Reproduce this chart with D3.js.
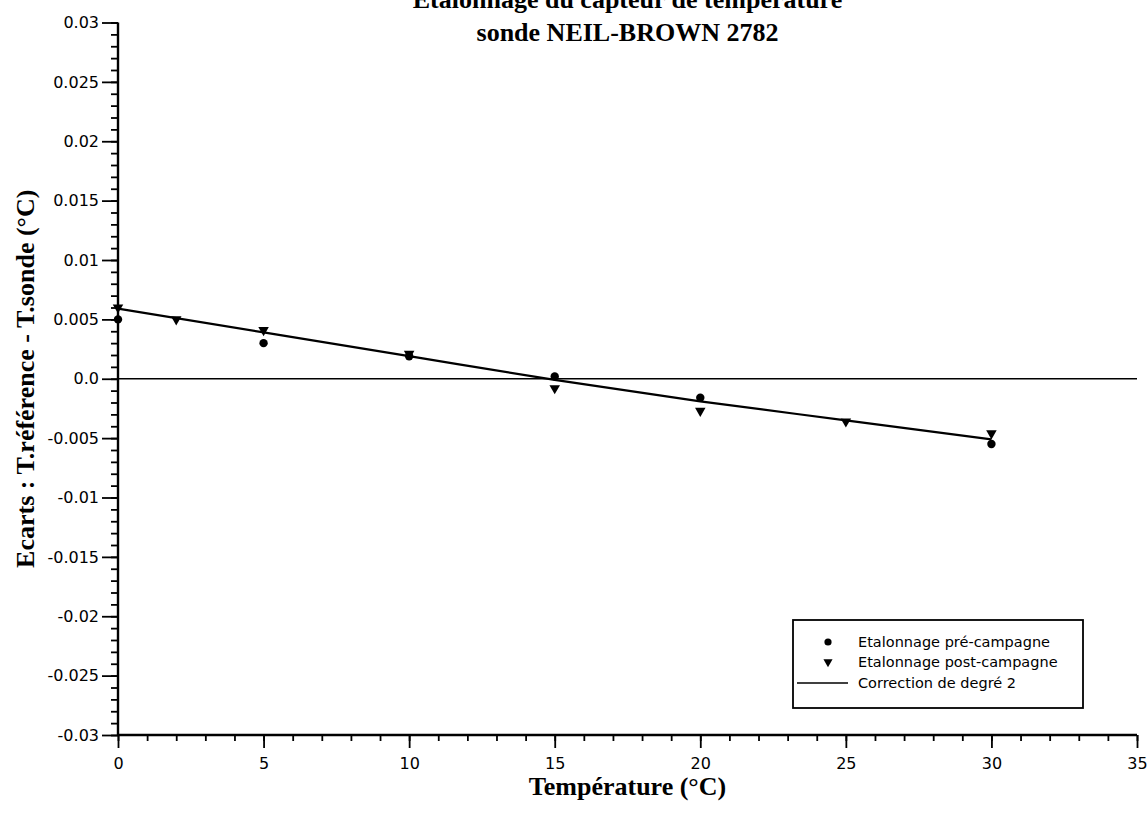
<!DOCTYPE html>
<html>
<head>
<meta charset="utf-8">
<script src="https://cdn.jsdelivr.net/npm/d3@7"></script>
<style>
  html, body { margin: 0; padding: 0; background: #fff; }
  svg { display: block; }
</style>
</head>
<body>
<svg id="chart" width="1148" height="815"></svg>
<script>
// ---------------- data ----------------
const titleLines = ["Etalonnage du capteur de température", "sonde NEIL-BROWN 2782"];
const xLabel = "Température (°C)";
const yLabel = "Ecarts : T.référence - T.sonde (°C)";

const preTemps = [0, 5, 10, 15, 20, 30];
const preValues = [0.0050, 0.0030, 0.0019, 0.0002, -0.0016, -0.0055];

const postTemps = [0, 2, 5, 10, 15, 20, 25, 30];
const postValues = [0.0060, 0.0050, 0.0041, 0.0021, -0.0008, -0.0027, -0.0036, -0.0046];

const fitTemps = [0, 5, 10, 15, 20, 25, 30];
const fitValues = [0.0059, 0.0039, 0.0019, -0.0001, -0.0019, -0.0035, -0.0051];

const xTicks = [0, 5, 10, 15, 20, 25, 30, 35];
const xTickLabels = ["0", "5", "10", "15", "20", "25", "30", "35"];
const yTicks = [0.03, 0.025, 0.02, 0.015, 0.01, 0.005, 0, -0.005, -0.01, -0.015, -0.02, -0.025, -0.03];
const yTickLabels = ["0.03", "0.025", "0.02", "0.015", "0.01", "0.005", "0.0", "-0.005", "-0.01", "-0.015", "-0.02", "-0.025", "-0.03"];

const legendLabels = ["Etalonnage pré-campagne", "Etalonnage post-campagne", "Correction de degré 2"];

// ---------------- drawing ----------------
const svg = d3.select("#chart");
const x = d3.scaleLinear().domain([0, 35]).range([118, 1137]);
const y = d3.scaleLinear().domain([-0.03, 0.03]).range([735, 22.5]);

const sans = "'DejaVu Sans', Verdana, sans-serif";
const serif = "'Liberation Serif', 'Times New Roman', serif";
const cx = (x(0) + x(35)) / 2;
const cy = (y(0.03) + y(-0.03)) / 2;

// zero reference line
svg.append("line")
  .attr("x1", x(0)).attr("x2", x(35))
  .attr("y1", y(0)).attr("y2", y(0))
  .attr("stroke", "#000").attr("stroke-width", 1.4);

// Y axis (major)
const yAxis = d3.axisLeft(y)
  .tickValues(yTicks)
  .tickSize(16)
  .tickPadding(3)
  .tickFormat((d, i) => yTickLabels[i]);
const gy = svg.append("g").attr("transform", `translate(${x(0)},0)`).call(yAxis);
gy.select(".domain").remove();
gy.selectAll(".tick line").attr("stroke-width", 1.8);
gy.selectAll("text").attr("font-family", sans).attr("font-size", 16).attr("fill", "#000");

// Y axis (minor)
const yMinor = d3.axisLeft(y).tickValues(d3.range(-30, 31).map(v => v / 1000)).tickSize(7).tickFormat("");
const gym = svg.append("g").attr("transform", `translate(${x(0)},0)`).call(yMinor);
gym.select(".domain").remove();
gym.selectAll(".tick line").attr("stroke-width", 1.8);

// X axis (major)
const xAxis = d3.axisBottom(x)
  .tickValues(xTicks)
  .tickSize(13)
  .tickPadding(10)
  .tickFormat((d, i) => xTickLabels[i]);
const gx = svg.append("g").attr("transform", `translate(0,${y(-0.03)})`).call(xAxis);
gx.select(".domain").remove();
gx.selectAll(".tick line").attr("stroke-width", 1.8);
gx.selectAll("text").attr("font-family", sans).attr("font-size", 16).attr("fill", "#000");

// X axis (minor)
const xMinor = d3.axisBottom(x).tickValues(d3.range(0, 36)).tickSize(6).tickFormat("");
const gxm = svg.append("g").attr("transform", `translate(0,${y(-0.03)})`).call(xMinor);
gxm.select(".domain").remove();
gxm.selectAll(".tick line").attr("stroke-width", 1.8);

// axis lines
svg.append("line").attr("x1", x(0)).attr("x2", x(0)).attr("y1", y(0.03)).attr("y2", y(-0.03))
  .attr("stroke", "#000").attr("stroke-width", 2.4);
svg.append("line").attr("x1", x(0)).attr("x2", x(35)).attr("y1", y(-0.03)).attr("y2", y(-0.03))
  .attr("stroke", "#000").attr("stroke-width", 2.4);

// fit curve
const fitData = fitTemps.map((t, i) => [t, fitValues[i]]);
svg.append("path")
  .datum(fitData)
  .attr("d", d3.line().x(d => x(d[0])).y(d => y(d[1])).curve(d3.curveMonotoneX))
  .attr("fill", "none").attr("stroke", "#000").attr("stroke-width", 2.2);

// pre-campagne points (filled dots)
svg.append("g").selectAll("circle")
  .data(preTemps.map((t, i) => [t, preValues[i]]))
  .join("circle")
  .attr("cx", d => x(d[0])).attr("cy", d => y(d[1]))
  .attr("r", 4.2).attr("fill", "#000");

// post-campagne points (down triangles)
const tri = d3.symbol().type(d3.symbolTriangle).size(48);
svg.append("g").selectAll("path")
  .data(postTemps.map((t, i) => [t, postValues[i]]))
  .join("path")
  .attr("d", tri)
  .attr("transform", d => `translate(${x(d[0])},${y(d[1])}) rotate(180)`)
  .attr("fill", "#000");

// title
svg.append("text").attr("x", cx).attr("y", 8).attr("text-anchor", "middle")
  .attr("font-family", serif).attr("font-weight", "bold").attr("font-size", 26)
  .text(titleLines[0]);
svg.append("text").attr("x", cx).attr("y", 41).attr("text-anchor", "middle")
  .attr("font-family", serif).attr("font-weight", "bold").attr("font-size", 26)
  .text(titleLines[1]);

// x label
svg.append("text").attr("x", cx).attr("y", 795).attr("text-anchor", "middle")
  .attr("font-family", serif).attr("font-weight", "bold").attr("font-size", 26)
  .text(xLabel);

// y label
svg.append("text").attr("transform", `translate(34,${cy}) rotate(-90)`).attr("text-anchor", "middle")
  .attr("font-family", serif).attr("font-weight", "bold").attr("font-size", 26)
  .text(yLabel);

// legend
const lg = svg.append("g");
lg.append("rect").attr("x", 793).attr("y", 620).attr("width", 290).attr("height", 88)
  .attr("fill", "#fff").attr("stroke", "#000").attr("stroke-width", 1.8);
const rowY = [642, 662, 683];
lg.append("circle").attr("cx", 828).attr("cy", rowY[0]).attr("r", 3.6).attr("fill", "#000");
lg.append("path").attr("d", d3.symbol().type(d3.symbolTriangle).size(36))
  .attr("transform", `translate(828,${rowY[1]}) rotate(180)`).attr("fill", "#000");
lg.append("line").attr("x1", 797).attr("x2", 848).attr("y1", rowY[2]).attr("y2", rowY[2])
  .attr("stroke", "#000").attr("stroke-width", 1.6);
lg.selectAll("text.leg").data(legendLabels).join("text").attr("class", "leg")
  .attr("x", 858).attr("y", (d, i) => rowY[i]).attr("dy", "0.36em")
  .attr("font-family", sans).attr("font-size", 14.5)
  .text(d => d);
</script>
</body>
</html>
